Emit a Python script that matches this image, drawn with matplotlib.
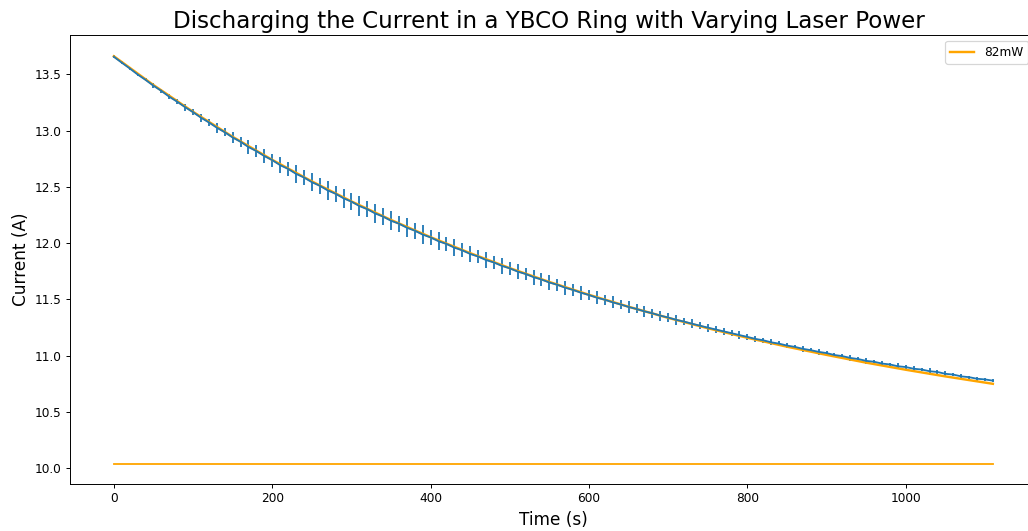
import numpy as np
import matplotlib
matplotlib.use("Agg")
import matplotlib.pyplot as plt

# ── Measured ring current (every 10 s) ─────────────────────
time_s = np.arange(0, 1111, 10)

current_a = [
    13.655, 13.603, 13.552, 13.498, 13.450, 13.398, 13.352, 13.300, 13.256, 13.207,
    13.163, 13.114, 13.072, 13.025, 12.985, 12.938, 12.900, 12.853, 12.817, 12.773,
    12.737, 12.692, 12.659, 12.615, 12.583, 12.541, 12.509, 12.468, 12.438, 12.398,
    12.368, 12.329, 12.301, 12.263, 12.235, 12.198, 12.172, 12.136, 12.110, 12.075,
    12.050, 12.016, 11.992, 11.959, 11.935, 11.903, 11.880, 11.849, 11.827, 11.797,
    11.775, 11.746, 11.725, 11.697, 11.676, 11.649, 11.629, 11.603, 11.583, 11.558,
    11.538, 11.514, 11.496, 11.473, 11.454, 11.432, 11.414, 11.393, 11.376, 11.355,
    11.338, 11.318, 11.302, 11.283, 11.266, 11.248, 11.232, 11.215, 11.199, 11.182,
    11.166, 11.148, 11.136, 11.118, 11.106, 11.089, 11.077, 11.060, 11.048, 11.033,
    11.022, 11.005, 10.995, 10.979, 10.969, 10.953, 10.945, 10.929, 10.921, 10.905,
    10.898, 10.883, 10.876, 10.861, 10.854, 10.838, 10.831, 10.815, 10.808, 10.794,
    10.788, 10.777,
]

current_err = [
    0.012, 0.014, 0.012, 0.016, 0.014, 0.020, 0.016, 0.024, 0.020, 0.030,
    0.026, 0.036, 0.032, 0.044, 0.038, 0.052, 0.046, 0.060, 0.052, 0.066,
    0.058, 0.072, 0.062, 0.078, 0.068, 0.082, 0.070, 0.084, 0.072, 0.086,
    0.074, 0.086, 0.074, 0.086, 0.072, 0.086, 0.072, 0.084, 0.070, 0.082,
    0.068, 0.080, 0.064, 0.076, 0.062, 0.074, 0.060, 0.072, 0.058, 0.070,
    0.058, 0.068, 0.056, 0.066, 0.054, 0.064, 0.052, 0.062, 0.050, 0.060,
    0.048, 0.056, 0.046, 0.054, 0.044, 0.050, 0.040, 0.048, 0.038, 0.044,
    0.036, 0.042, 0.034, 0.038, 0.032, 0.036, 0.030, 0.034, 0.028, 0.032,
    0.026, 0.030, 0.024, 0.028, 0.022, 0.026, 0.021, 0.025, 0.020, 0.024,
    0.018, 0.022, 0.017, 0.023, 0.017, 0.025, 0.016, 0.026, 0.016, 0.028,
    0.016, 0.028, 0.016, 0.030, 0.016, 0.027, 0.014, 0.022, 0.013, 0.018,
    0.012, 0.012,
]

# ── Exponential fit (82 mW) ────────────────────────────────
fit_t = [0, 50, 100, 150, 200, 250, 300, 350, 400, 450, 500, 550,
         600, 650, 700, 750, 800, 850, 900, 950, 1000, 1050, 1110]
fit_i = [13.660, 13.404, 13.166, 12.944, 12.739, 12.548, 12.370, 12.205,
         12.052, 11.910, 11.777, 11.654, 11.540, 11.434, 11.335, 11.243,
         11.158, 11.079, 11.006, 10.937, 10.874, 10.815, 10.749]

# asymptotic current of the fit
i_inf = 10.04
base_t = [0, 1110]

# ── Plot ───────────────────────────────────────────────────
fig = plt.figure(figsize=(1028 / 87, 531 / 87), dpi=87)
ax = fig.add_axes([0.068, 0.0885, 0.9533, 0.8455])

ax.errorbar(time_s, current_a, yerr=current_err, color="#1f77b4", linewidth=1.5)
ax.plot(fit_t, fit_i, color="orange", linewidth=2, label="82mW")
ax.plot(base_t, [i_inf, i_inf], color="orange", linewidth=1.5)
ax.set_xlim(-55.5, 1182)

ax.set_title("Discharging the Current in a YBCO Ring with Varying Laser Power",
             fontsize=19, x=0.489)
ax.set_xlabel("Time (s)", fontsize=14)
ax.xaxis.set_label_coords(0.493, -0.06)
ax.set_ylabel("Current (A)", fontsize=14)
ax.legend(loc="upper right", bbox_to_anchor=(1034 / 1028, 496 / 531),
          bbox_transform=fig.transFigure)

fig.savefig("out.png", dpi=87)
